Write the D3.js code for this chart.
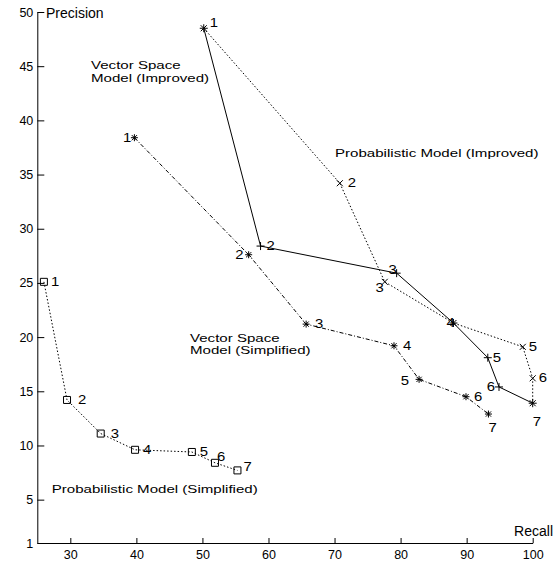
<!DOCTYPE html>
<html>
<head>
<meta charset="utf-8">
<script src="https://cdn.jsdelivr.net/npm/d3@7"></script>
<style>
  body { margin: 0; background: #fff; }
  svg text { font-family: "Liberation Sans", Arial, sans-serif; fill: #000; }
  .axis path, .axis line { stroke: #000; }
</style>
</head>
<body>
<svg id="chart" width="556" height="563"></svg>
<script>
// point numbers along each curve
const pointIds = [1, 2, 3, 4, 5, 6, 7];

// Vector Space Model (Improved) - solid, "+"
const vsImprovedRecall = [50.2, 58.8, 79.4, 88.0, 93.2, 94.9, 100];
const vsImprovedPrecision = [48.5, 28.4, 25.9, 21.3, 18.1, 15.4, 13.9];

// Probabilistic Model (Improved) - dotted, "x"
const probImprovedRecall = [50.2, 70.8, 77.6, 88.0, 98.5, 100, 100];
const probImprovedPrecision = [48.5, 34.2, 25.1, 21.3, 19.1, 16.2, 13.9];

// Vector Space Model (Simplified) - dash dot, "*"
const vsSimplifiedRecall = [39.7, 57.0, 65.7, 79.0, 82.8, 89.9, 93.3];
const vsSimplifiedPrecision = [38.4, 27.6, 21.2, 19.2, 16.1, 14.5, 12.9];

// Probabilistic Model (Simplified) - dotted, box
const probSimplifiedRecall = [26.0, 29.5, 34.6, 39.8, 48.4, 51.9, 55.3];
const probSimplifiedPrecision = [25.1, 14.2, 11.1, 9.6, 9.4, 8.4, 7.7];

const xTicks = [30, 40, 50, 60, 70, 80, 90, 100];
const yTicks = [1, 5, 10, 15, 20, 25, 30, 35, 40, 45, 50];

// curve names, anchored at (recall, precision) of the first baseline
const seriesNames = [
  { lines: ["Vector Space", "Model (Improved)"], at: [33.13, 44.7] },
  { lines: ["Probabilistic Model (Improved)"], at: [70.07, 36.62] },
  { lines: ["Vector Space", "Model (Simplified)"], at: [48.12, 19.58] },
  { lines: ["Probabilistic Model (Simplified)"], at: [27.18, 5.57] }
];

// number label placement per point: [dx, dy, anchor], null = not drawn
const vsImprovedLabels = [[6, -5, "start"], [6, 0, "start"], [-8, -3, "start"], [-7, 0, "start"], [5, 0, "start"], [-4, 0, "end"], [0, 19, "start"]];
const probImprovedLabels = [null, [8, 0, "start"], [-1, 6, "end"], null, [6, 0, "start"], [6, 0, "start"], null];
const vsSimplifiedLabels = [[-3, 0, "end"], [-5, 0, "end"], [9, 0, "start"], [9, 0, "start"], [-10, 1, "end"], [8, 0, "start"], [0, 14, "start"]];
const probSimplifiedLabels = [[7, 0, "start"], [11, 0, "start"], [10, 0, "start"], [8, 0, "start"], [8, 0, "start"], [2, -6, "start"], [6, -4, "start"]];

const svg = d3.select("#chart");

const x = d3.scaleLinear().domain([25, 100]).range([37.3, 532.7]);
const y = d3.scaleLinear().domain([1, 50]).range([543, 12]);

// the original lettering is wide and short, so stretch text sideways
function stretch(sel, k) {
  sel.each(function() {
    const w = this.getComputedTextLength();
    d3.select(this).attr("textLength", w * k).attr("lengthAdjust", "spacingAndGlyphs");
  });
}

svg.append("g").attr("class", "axis")
  .attr("transform", "translate(0,543)")
  .call(d3.axisBottom(x).tickValues(xTicks).tickSize(-5).tickSizeOuter(0).tickPadding(7))
  .call(g => g.selectAll("text").attr("font-size", 12.5).attr("font-family", null));

svg.append("g").attr("class", "axis")
  .attr("transform", "translate(37.3,0)")
  .call(d3.axisLeft(y).tickValues(yTicks).tickSize(-7).tickSizeOuter(0).tickPadding(4))
  .call(g => g.selectAll("text").attr("font-size", 12.5).attr("font-family", null));

svg.append("text").text("Precision").attr("x", 46).attr("y", 13).attr("dy", "0.35em").attr("font-size", 14);
svg.append("text").text("Recall").attr("x", 553).attr("y", 531.5).attr("dy", "0.35em")
  .attr("text-anchor", "end").attr("font-size", 14);

// marker shapes
const plus = s => `M${-s},0H${s}M0,${-s}V${s}`;
const cross = s => `M${-s},${-s}L${s},${s}M${-s},${s}L${s},${-s}`;
const star = s => plus(s) + cross(s * 0.75);
const box = s => `M${-s},${-s}H${s}V${s}H${-s}Z`;

const series = [
  { rx: vsImprovedRecall, py: vsImprovedPrecision, dash: null, marker: plus(4), labels: vsImprovedLabels },
  { rx: probImprovedRecall, py: probImprovedPrecision, dash: "1.5,2", marker: cross(3), labels: probImprovedLabels },
  { rx: vsSimplifiedRecall, py: vsSimplifiedPrecision, dash: "4,2,1,2", marker: star(3.5), labels: vsSimplifiedLabels },
  { rx: probSimplifiedRecall, py: probSimplifiedPrecision, dash: "1.5,2", marker: box(3.5), labels: probSimplifiedLabels }
];

const line = d3.line().x(d => x(d.r)).y(d => y(d.p));

series.forEach((s, i) => {
  const pts = pointIds.map((id, k) => ({ id: id, r: s.rx[k], p: s.py[k], lab: s.labels[k] }));
  const g = svg.append("g").attr("class", "series" + i);

  g.append("path").datum(pts)
    .attr("d", line)
    .attr("fill", "none")
    .attr("stroke", "#000")
    .attr("stroke-width", 1)
    .attr("stroke-dasharray", s.dash);

  g.selectAll(".pt").data(pts).join("path")
    .attr("class", "pt")
    .attr("transform", d => `translate(${x(d.r)},${y(d.p)})`)
    .attr("d", s.marker)
    .attr("fill", "none")
    .attr("stroke", "#000")
    .attr("stroke-width", 1);

  g.selectAll(".lab").data(pts.filter(d => d.lab)).join("text")
    .attr("class", "lab")
    .attr("x", d => x(d.r) + d.lab[0])
    .attr("y", d => y(d.p) + d.lab[1])
    .attr("dy", "0.35em")
    .attr("text-anchor", d => d.lab[2])
    .attr("font-size", 12)
    .text(d => d.id)
    .call(stretch, 1.24);
});

seriesNames.forEach(n => {
  n.lines.forEach((l, k) => {
    svg.append("text")
      .attr("x", x(n.at[0]))
      .attr("y", y(n.at[1]) + k * 12.7)
      .attr("font-size", 11)
      .text(l)
      .call(stretch, 1.37);
  });
});
</script>
</body>
</html>
